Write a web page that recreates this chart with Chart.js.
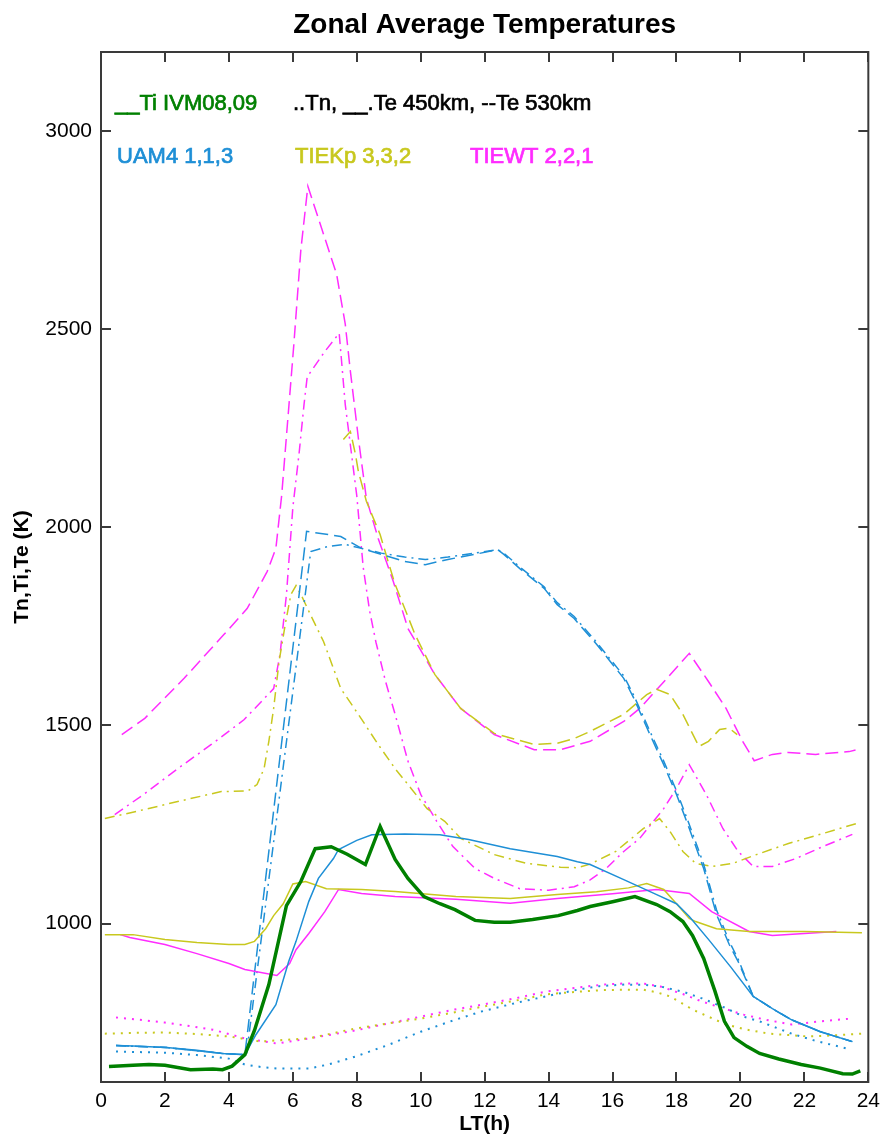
<!DOCTYPE html>
<html><head><meta charset="utf-8">
<script src="https://cdn.jsdelivr.net/npm/chart.js@4.4.1/dist/chart.umd.min.js"></script>
<style>html,body{margin:0;padding:0;background:#fff;overflow:hidden}canvas{display:block}</style>
</head><body>
<canvas id="c" width="887" height="1138"></canvas>
<script>
// ---- tick values ----
const xTicks = [0,2,4,6,8,10,12,14,16,18,20,22,24];
const yTicks = [1000,1500,2000,2500,3000];

// ---- labels ----
const chartTitle = 'Zonal Average Temperatures';
const xTitle = 'LT(h)';
const yTitle = 'Tn,Ti,Te (K)';
const legendRow1 = ['__Ti IVM08,09', '..Tn, __.Te 450km, --Te 530km'];
const legendRow2 = ['UAM4 1,1,3', 'TIEKp 3,3,2', 'TIEWT 2,2,1'];

// ---- Ti IVM08,09 (observed) ----
const ivmX  = [0.25,1.0,1.5,2.0,2.8,3.5,3.8,4.1,4.5,4.8,5.25,5.8,6.25,6.7,7.2,7.7,8.27,8.73,9.2,9.6,10.1,10.6,11.07,11.7,12.3,12.8,13.5,14.3,14.9,15.3,16.0,16.7,17.38,17.8,18.2,18.5,18.85,19.2,19.5,19.8,20.2,20.6,21.2,21.9,22.5,23.2,23.5,23.75];
const ivmTi = [639,642,644,642,631,633,631,640,669,730,846,1045,1106,1189,1194,1175,1149,1245,1162,1114,1068,1050,1035,1008,1003,1003,1010,1020,1033,1043,1055,1068,1048,1030,1005,970,912,830,753,712,690,672,658,644,635,621,620,628];

// ---- UAM4 ----
const uamTiX = [0.47,1.0,2.05,3.0,3.8,4.5,4.85,5.47,5.87,6.1,6.5,6.8,7.27,7.43,8.0,8.47,9.5,10.6,11.5,12.8,14.27,14.9,15.3,16.35,17.38,18.0,18.4,19.0,19.7,20.4,21.0,21.6,22.5,23.5];
const uamTi  = [692,691,687,680,672,669,720,795,904,955,1056,1114,1164,1187,1210,1224,1226,1224,1212,1189,1169,1156,1149,1111,1073,1050,1018,960,890,816,785,757,727,702];
const uamTnX = [0.47,2.0,3.0,4.0,4.5,5.0,5.5,6.5,7.1,7.95,9.0,10.0,11.0,11.9,13.0,13.9,14.9,15.6,16.4,17.0,17.5,18.2,18.8,19.5,20.1,20.6,21.6,22.3,23.45];
const uamTn  = [677,674,668,659,644,638,634,634,644,664,694,727,755,778,800,816,833,842,846,845,841,828,811,788,765,753,722,705,682];
const uamTe450X = [0.47,2.05,3.8,4.55,6.56,7.1,7.64,8.15,8.77,9.5,10.14,10.85,11.7,12.4,12.6,13.1,13.86,14.27,14.8,15.5,16.35,16.67,17.17,17.6,18.0,18.4,18.85,19.25,19.65,19.93,20.4,21.0,21.6,22.5,23.5];
const uamTe450  = [692,687,672,669,1939,1952,1957,1947,1935,1925,1919,1925,1935,1944,1935,1900,1850,1810,1775,1710,1625,1575,1485,1410,1335,1250,1150,1035,955,910,816,785,757,727,702];
const uamTe530X = [0.47,2.05,3.8,4.5,6.43,7.5,8.15,8.77,9.5,10.14,10.85,11.7,12.4,12.6,13.1,13.86,14.27,14.8,15.5,16.35,16.67,17.17,17.6,18.0,18.4,18.85,19.25,19.65,19.93,20.4,21.0,21.6,22.5,23.5];
const uamTe530  = [692,687,672,669,1990,1977,1947,1932,1914,1906,1919,1932,1944,1932,1896,1846,1805,1770,1705,1619,1568,1477,1401,1326,1240,1139,1023,947,904,816,785,757,727,702];

// ---- TIEKp ----
const tiekpTiX = [0.12,1.0,2.0,3.0,4.0,4.5,4.8,5.15,5.4,5.7,6.0,6.4,7.05,8.15,9.2,11.1,12.8,14.27,15.5,16.5,17.07,17.6,18.0,18.4,18.6,19.25,20.27,22.0,23.8];
const tiekpTi  = [972,972,960,952,947,947,955,987,1020,1050,1100,1106,1088,1086,1081,1068,1063,1073,1080,1090,1101,1086,1050,1013,1005,987,980,980,977];
const tiekpTnX = [0.12,1.0,2.0,3.0,4.0,5.0,5.5,6.5,7.95,9.0,10.0,11.0,11.8,13.0,13.9,14.9,15.7,16.4,16.97,17.4,17.8,18.5,19.0,19.55,20.2,20.9,22.1,23.0,23.8];
const tiekpTn  = [722,724,725,721,715,702,705,710,735,748,760,775,788,806,821,828,832,833,833,826,816,783,765,745,732,722,715,718,722];
const tiekpTe450X = [0.12,1.37,2.4,3.76,4.6,4.88,5.1,5.25,5.4,5.57,5.78,5.94,6.1,6.28,6.55,6.96,7.27,7.5,8.05,8.67,9.2,9.7,10.2,10.75,11.25,12.3,13.3,14.37,14.9,15.3,16.1,16.97,17.47,17.8,18.2,18.6,19.1,19.77,20.5,21.5,22.57,23.65];
const tiekpTe450  = [1265,1288,1308,1333,1335,1351,1391,1460,1543,1662,1763,1831,1853,1826,1780,1712,1644,1593,1528,1452,1391,1341,1290,1258,1215,1174,1152,1142,1141,1150,1182,1240,1265,1232,1182,1152,1144,1152,1174,1202,1227,1253];
const tiekpTe530X = [7.58,7.8,7.96,8.05,8.3,8.73,8.98,9.2,9.82,10.44,11.25,12.3,13.55,14.27,14.8,15.3,16.35,17.07,17.38,17.8,18.2,18.7,19.0,19.35,19.65,19.9];
const tiekpTe530  = [2222,2242,2184,2141,2066,1982,1914,1856,1730,1629,1543,1480,1452,1455,1467,1485,1528,1578,1591,1578,1528,1447,1460,1490,1493,1477];

// ---- TIEWT ----
const tiewtTiX = [0.6,0.9,2.0,3.0,4.0,4.5,5.5,5.9,6.1,6.5,7.0,7.43,8.15,9.2,11.1,12.8,14.27,16.0,17.38,18.4,19.1,20.27,21.0,22.0,23.0];
const tiewtTi  = [972,965,947,924,899,884,869,899,934,975,1030,1086,1076,1068,1061,1051,1063,1075,1086,1076,1030,980,970,975,980];
const tiewtTnX = [0.47,1.2,2.0,2.8,3.5,4.5,5.5,6.5,7.95,9.0,10.0,11.0,11.9,13.0,13.9,14.9,15.7,16.4,17.0,17.5,18.2,18.8,19.5,20.1,20.8,21.6,22.5,23.45];
const tiewtTn  = [763,757,750,741,732,710,697,710,730,748,765,782,795,812,828,838,846,849,848,841,822,803,785,770,757,745,753,760];
const tiewtTe450X = [0.43,1.37,2.4,3.45,4.48,5.4,5.6,5.8,6.0,6.2,6.35,6.45,7.0,7.45,7.64,8.0,8.2,8.4,8.6,8.9,9.2,9.6,10.0,10.5,11.0,11.7,12.3,13.1,14.0,14.8,15.3,15.8,16.35,16.85,17.6,18.0,18.4,18.93,19.45,19.93,20.4,21.0,21.73,22.57,23.5];
const tiewtTe450  = [1275,1328,1391,1452,1515,1593,1680,1830,2050,2190,2310,2380,2444,2490,2310,2080,1900,1790,1710,1611,1528,1410,1326,1258,1195,1139,1114,1088,1084,1093,1110,1139,1182,1215,1290,1341,1401,1326,1240,1182,1144,1144,1164,1194,1225];
const tiewtTe530X = [0.65,1.37,2.6,3.85,4.57,5.2,5.47,5.65,6.03,6.25,6.47,6.9,7.37,7.64,7.8,8.05,8.3,8.67,9.14,9.6,10.44,11.25,12.3,13.55,14.37,15.3,16.35,16.85,17.7,18.4,19.0,19.55,20.07,20.43,21.0,21.5,22.35,23.4,23.6];
const tiewtTe530  = [1477,1518,1619,1730,1795,1889,1947,2080,2460,2700,2861,2755,2639,2513,2394,2225,2073,1972,1864,1745,1629,1543,1477,1439,1439,1460,1510,1543,1619,1682,1611,1543,1460,1411,1427,1432,1427,1434,1438];

// ---- styling ----
const GREEN = '#008000', BLUE = '#1e8fd6', OLIVE = '#c8c81e', MAGENTA = '#ff2cff';
const FONT = '"Liberation Sans", Arial, Helvetica, sans-serif';
const DOT = [2,6], DASHDOT = [10,5,2,5], DASH = [13,6];

function series(xs, ys, color, dash, width){
  return {
    data: xs.map((x,i)=>({x:x, y:ys[i]})),
    borderColor: color, backgroundColor: color,
    borderDash: dash, borderWidth: width,
    pointRadius: 0, fill: false, tension: 0, borderCapStyle:'butt'
  };
}

const datasets = [
  series(ivmX, ivmTi, GREEN, [], 3.5),
  series(uamTiX, uamTi, BLUE, [], 1.5),
  series(tiekpTiX, tiekpTi, OLIVE, [], 1.5),
  series(tiewtTiX, tiewtTi, MAGENTA, [], 1.5),
  series(uamTnX, uamTn, BLUE, DOT, 2),
  series(tiekpTnX, tiekpTn, OLIVE, DOT, 2),
  series(tiewtTnX, tiewtTn, MAGENTA, DOT, 2),
  series(uamTe450X, uamTe450, BLUE, DASHDOT, 1.5),
  series(uamTe530X, uamTe530, BLUE, DASH, 1.5),
  series(tiekpTe450X, tiekpTe450, OLIVE, DASHDOT, 1.5),
  series(tiekpTe530X, tiekpTe530, OLIVE, DASH, 1.5),
  series(tiewtTe450X, tiewtTe450, MAGENTA, DASHDOT, 1.5),
  series(tiewtTe530X, tiewtTe530, MAGENTA, DASH, 1.5)
];

function heavyText(ctx, text, x, y, color){
  ctx.fillStyle = color; ctx.strokeStyle = color; ctx.lineWidth = 0.7;
  ctx.fillText(text, x, y); ctx.strokeText(text, x, y);
}

const decor = {
  id: 'decor',
  afterDraw(chart){
    const ctx = chart.ctx, a = chart.chartArea, sx = chart.scales.x, sy = chart.scales.y;
    ctx.save();
    ctx.strokeStyle = '#3a3a3a';
    ctx.lineWidth = 2;
    ctx.strokeRect(a.left, a.top, a.right - a.left, a.bottom - a.top);
    ctx.beginPath();
    xTicks.forEach(v=>{
      const px = Math.round(sx.getPixelForValue(v));
      ctx.moveTo(px, a.bottom); ctx.lineTo(px, a.bottom - 10);
      ctx.moveTo(px, a.top); ctx.lineTo(px, a.top + 10);
    });
    yTicks.forEach(v=>{
      const py = Math.round(sy.getPixelForValue(v));
      ctx.moveTo(a.left, py); ctx.lineTo(a.left + 10, py);
      ctx.moveTo(a.right, py); ctx.lineTo(a.right - 10, py);
    });
    ctx.stroke();

    ctx.fillStyle = '#000';
    ctx.textAlign = 'center';
    ctx.textBaseline = 'alphabetic';
    ctx.font = 'bold 28px ' + FONT;
    ctx.fillText(chartTitle, (a.left + a.right)/2, 33);

    ctx.font = 'bold 21px ' + FONT;
    ctx.textBaseline = 'middle';
    ctx.fillText(xTitle, (a.left + a.right)/2, 1124);
    ctx.save();
    ctx.translate(22, (a.top + a.bottom)/2);
    ctx.rotate(-Math.PI/2);
    ctx.fillText(yTitle, 0, 0);
    ctx.restore();

    ctx.textAlign = 'left';
    ctx.textBaseline = 'alphabetic';
    ctx.font = '22px ' + FONT;
    heavyText(ctx, legendRow1[0], 115, 110, GREEN);
    heavyText(ctx, legendRow1[1], 293, 110, '#000');
    heavyText(ctx, legendRow2[0], 117, 163, BLUE);
    heavyText(ctx, legendRow2[1], 295, 163, OLIVE);
    heavyText(ctx, legendRow2[2], 470, 163, MAGENTA);
    ctx.restore();
  }
};

new Chart(document.getElementById('c'), {
  type: 'line',
  data: { datasets },
  options: {
    responsive: false,
    animation: false,
    devicePixelRatio: 1,
    layout: { autoPadding: false, padding: { left: 0, right: 14, top: 52, bottom: 0 } },
    plugins: { legend: { display: false }, tooltip: { enabled: false }, title: { display: false } },
    scales: {
      x: {
        type: 'linear', min: 0, max: 24,
        afterFit: s => { s.height = 56; },
        afterBuildTicks: s => { s.ticks = xTicks.map(v => ({ value: v })); },
        grid: { display: false, drawTicks: false },
        border: { display: false },
        ticks: { color: '#000', font: { family: FONT, size: 21 }, padding: 7, maxRotation: 0, autoSkip: false,
                 callback: v => String(v) }
      },
      y: {
        type: 'linear', min: 600, max: 3200,
        afterFit: s => { s.width = 101; },
        afterBuildTicks: s => { s.ticks = yTicks.map(v => ({ value: v })); },
        grid: { display: false, drawTicks: false },
        border: { display: false },
        ticks: { color: '#000', font: { family: FONT, size: 21 }, padding: 9,
                 callback: v => String(v) }
      }
    }
  },
  plugins: [decor]
});
</script>
</body></html>
